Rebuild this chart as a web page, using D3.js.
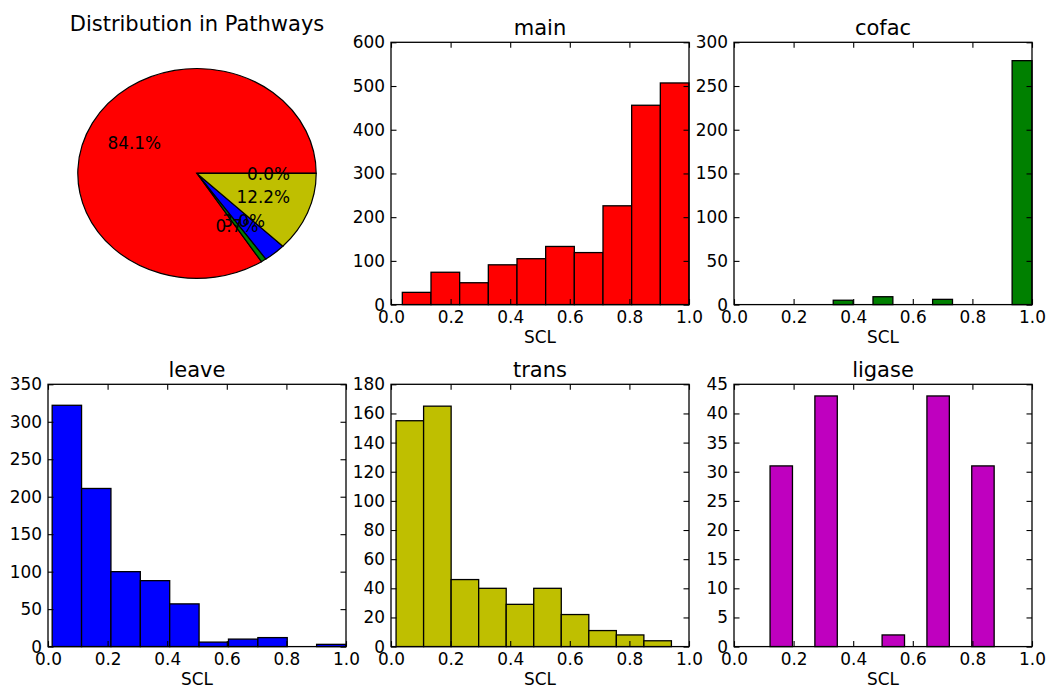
<!DOCTYPE html>
<html>
<head>
<meta charset="utf-8">
<script src="https://cdn.jsdelivr.net/npm/d3@7"></script>
<style>
  body { margin: 0; background: #fff; }
  svg { display: block; }
  text { font-family: "DejaVu Sans", sans-serif; fill: #000; }
</style>
</head>
<body>
<svg id="fig" width="1047" height="687"></svg>
<script>
// Share of records per pathway (percent)
const pathways = ["main", "cofac", "leave", "trans", "ligase"];
const pathwayShares = [84.1, 0.7, 3.0, 12.2, 0.0];
const pathwayColors = ["#ff0000", "#008000", "#0000ff", "#bfbf00", "#bf00bf"];

// SCL histograms: 10 bins spanning each series' [min, max]
const mainCounts = [28, 74, 50, 91, 105, 133, 119, 226, 456, 507];
const mainRange = [0.038, 1.0];
const cofacCounts = [5, 0, 9, 0, 0, 6, 0, 0, 0, 279];
const cofacRange = [0.333, 1.0];
const leaveCounts = [322, 211, 100, 88, 57, 6, 10, 12, 0, 3];
const leaveRange = [0.014, 1.0];
const transCounts = [155, 165, 46, 40, 29, 40, 22, 11, 8, 4];
const transRange = [0.017, 0.941];
const ligaseCounts = [31, 0, 43, 0, 0, 2, 0, 43, 0, 31];
const ligaseRange = [0.121, 0.873];

// Axis ticks
const xTicks = [0, 0.2, 0.4, 0.6, 0.8, 1.0];
const mainYTicks = [0, 100, 200, 300, 400, 500, 600];
const cofacYTicks = [0, 50, 100, 150, 200, 250, 300];
const leaveYTicks = [0, 50, 100, 150, 200, 250, 300, 350];
const transYTicks = [0, 20, 40, 60, 80, 100, 120, 140, 160, 180];
const ligaseYTicks = [0, 5, 10, 15, 20, 25, 30, 35, 40, 45];

// Grid of subplots
const colX = [48, 391, 734];
const rowY = [42.3, 384.3];
const W = 298, H = 262.3;
const TICK = 5.5;
const FS_TICK = 16.9, FS_TITLE = 21;

const svg = d3.select("#fig");

// ---- Pie ----
(function drawPie() {
  const cx = colX[0] + W / 2, cy = rowY[0] + H / 2;
  const rx = W / 2.5, ry = H / 2.5;
  const data = pathways.map((p, i) => ({ name: p, value: pathwayShares[i], color: pathwayColors[i] }));
  // start at 3 o'clock, run counter-clockwise
  const pie = d3.pie().sort(null).value(d => d.value)
    .startAngle(Math.PI / 2).endAngle(Math.PI / 2 - 2 * Math.PI);
  const arcs = pie(data);
  const arc = d3.arc().innerRadius(0).outerRadius(1);
  const g = svg.append("g").attr("transform", `translate(${cx},${cy})`);
  g.selectAll("path").data(arcs).join("path")
    .attr("d", arc)
    .attr("transform", `scale(${rx},${ry})`)
    .attr("fill", d => d.data.color)
    .attr("stroke", "#000")
    .attr("stroke-width", 1.2)
    .attr("vector-effect", "non-scaling-stroke");
  const total = d3.sum(pathwayShares);
  g.selectAll("text.pct").data(arcs).join("text")
    .attr("class", "pct")
    .attr("x", d => 0.6 * rx * Math.sin((d.startAngle + d.endAngle) / 2))
    .attr("y", d => -0.6 * ry * Math.cos((d.startAngle + d.endAngle) / 2))
    .attr("dy", "0.36em")
    .attr("text-anchor", "middle")
    .attr("font-size", FS_TICK)
    .text(d => (100 * d.data.value / total).toFixed(1) + "%");
  svg.append("text")
    .attr("x", cx).attr("y", 30.5)
    .attr("text-anchor", "middle")
    .attr("font-size", FS_TITLE)
    .text("Distribution in Pathways");
})();

// ---- Histograms ----
function histPanel(col, row, title, counts, range, yTicks, color) {
  const x0 = colX[col], y0 = rowY[row];
  const x = d3.scaleLinear().domain([0, 1]).range([x0, x0 + W]);
  const y = d3.scaleLinear().domain([0, yTicks[yTicks.length - 1]]).range([y0 + H, y0]);
  const n = counts.length, step = (range[1] - range[0]) / n;
  const g = svg.append("g");

  g.selectAll("rect.bar").data(counts).join("rect")
    .attr("class", "bar")
    .attr("x", (c, i) => x(range[0] + i * step))
    .attr("width", x(step) - x(0))
    .attr("y", c => y(c))
    .attr("height", c => y(0) - y(c))
    .attr("fill", color)
    .attr("stroke", "#000")
    .attr("stroke-width", 1.3);

  const fmtX = d3.format(".1f");
  const bottom = g.append("g").attr("transform", `translate(0,${y0 + H})`)
    .call(d3.axisBottom(x).tickValues(xTicks).tickFormat(fmtX)
      .tickSizeInner(-TICK).tickSizeOuter(0).tickPadding(6.5));
  const top = g.append("g").attr("transform", `translate(0,${y0})`)
    .call(d3.axisTop(x).tickValues(xTicks).tickFormat("")
      .tickSizeInner(-TICK).tickSizeOuter(0));
  const left = g.append("g").attr("transform", `translate(${x0},0)`)
    .call(d3.axisLeft(y).tickValues(yTicks).tickFormat(d3.format("d"))
      .tickSizeInner(-TICK).tickSizeOuter(0).tickPadding(6));
  const right = g.append("g").attr("transform", `translate(${x0 + W},0)`)
    .call(d3.axisRight(y).tickValues(yTicks).tickFormat("")
      .tickSizeInner(-TICK).tickSizeOuter(0));
  [bottom, top, left, right].forEach(a => {
    a.select(".domain").remove();
    a.selectAll("line").attr("stroke", "#000").attr("stroke-width", 1.1);
    a.selectAll("text").attr("font-size", FS_TICK).attr("font-family", "DejaVu Sans, sans-serif").attr("fill", "#000");
  });

  g.append("rect")
    .attr("x", x0).attr("y", y0).attr("width", W).attr("height", H)
    .attr("fill", "none").attr("stroke", "#000").attr("stroke-width", 1.3);

  g.append("text")
    .attr("x", x0 + W / 2).attr("y", y0 - 7.5)
    .attr("text-anchor", "middle")
    .attr("font-size", FS_TITLE)
    .text(title);
  g.append("text")
    .attr("x", x0 + W / 2).attr("y", y0 + H + 38.5)
    .attr("text-anchor", "middle")
    .attr("font-size", FS_TICK)
    .text("SCL");
}

histPanel(1, 0, "main", mainCounts, mainRange, mainYTicks, pathwayColors[0]);
histPanel(2, 0, "cofac", cofacCounts, cofacRange, cofacYTicks, pathwayColors[1]);
histPanel(0, 1, "leave", leaveCounts, leaveRange, leaveYTicks, pathwayColors[2]);
histPanel(1, 1, "trans", transCounts, transRange, transYTicks, pathwayColors[3]);
histPanel(2, 1, "ligase", ligaseCounts, ligaseRange, ligaseYTicks, pathwayColors[4]);
</script>
</body>
</html>
